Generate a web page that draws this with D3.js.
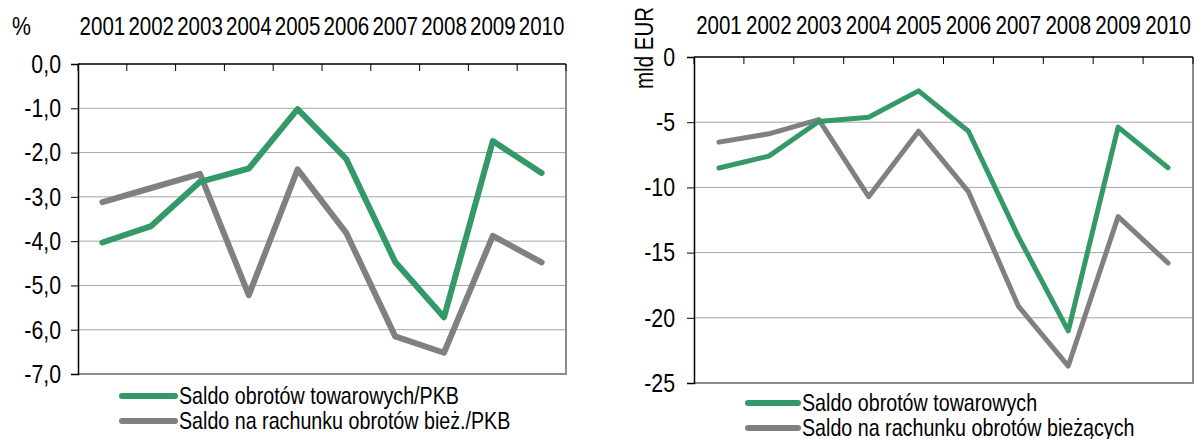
<!DOCTYPE html>
<html>
<head>
<meta charset="utf-8">
<script src="https://cdn.jsdelivr.net/npm/d3@7"></script>
<style>
  body { margin: 0; background: #fff; }
  svg text { font-family: "Liberation Sans", Arial, sans-serif; fill: #000; }
</style>
</head>
<body>
<div id="chart"></div>
<script>

// data
var years = ["2001", "2002", "2003", "2004", "2005", "2006", "2007", "2008", "2009", "2010"];

var pctTrade   = [-4.03, -3.66, -2.66, -2.36, -1.02, -2.15, -4.47, -5.72, -1.74, -2.46];
var pctCurrent = [-3.12, -2.80, -2.48, -5.22, -2.38, -3.82, -6.15, -6.52, -3.88, -4.48];

var eurTrade   = [-8.51, -7.60, -4.95, -4.62, -2.60, -5.69, -13.78, -21.0, -5.38, -8.49];
var eurCurrent = [-6.53, -5.89, -4.80, -10.71, -5.69, -10.33, -19.1, -23.7, -12.24, -15.8];

var pctTicks = [0, -1, -2, -3, -4, -5, -6, -7];
var eurTicks = [0, -5, -10, -15, -20, -25];

var pctLegend = ["Saldo obrotów towarowych/PKB", "Saldo na rachunku obrotów bież./PKB"];
var eurLegend = ["Saldo obrotów towarowych", "Saldo na rachunku obrotów bieżących"];

var green = "#339966", grey = "#808080";
var squeeze = 0.82;   // mimic the narrow face of the original

var svg = d3.select("#chart")
  .append("svg")
    .attr("width", 1195)
    .attr("height", 439);

// horizontally squeeze text (no narrow font installed)
function narrow(sel, size) {
  sel.each(function() {
    var t = d3.select(this);
    var x = +t.attr("x") || 0;
    t.attr("x", x / squeeze)
     .attr("transform", (t.attr("transform") || "") + " scale(" + squeeze + ",1)")
     .style("font-size", size + "px");
  });
}

function panel(opt) {
  var x = d3.scaleBand()
    .domain(years)
    .range([opt.left, opt.right]);

  var y = d3.scaleLinear()
    .domain([opt.ticks[0], opt.ticks[opt.ticks.length - 1]])
    .range([opt.top, opt.bottom]);

  var g = svg.append("g");

  // gridlines
  g.append("g")
    .selectAll("line")
    .data(opt.ticks.slice(1, -1))
    .enter()
    .append("line")
      .attr("x1", opt.left)
      .attr("x2", opt.right)
      .attr("y1", function(d) { return y(d); })
      .attr("y2", function(d) { return y(d); })
      .style("stroke", "#a6a6a6")
      .style("stroke-width", 1);

  // bottom and right border
  g.append("path")
    .attr("d", "M" + opt.left + "," + y(opt.ticks[opt.ticks.length - 1]) +
               "H" + opt.right + "V" + y(opt.ticks[0]))
    .style("fill", "none")
    .style("stroke", "#8c8c8c")
    .style("stroke-width", 2);

  // Y axis
  var yAxis = d3.axisLeft(y)
    .tickValues(opt.ticks)
    .tickSize(7)
    .tickPadding(opt.valPad)
    .tickFormat(opt.fmt);
  g.append("g")
    .attr("transform", "translate(" + opt.left + ",0)")
    .call(yAxis)
    .call(function(a) {
      a.select(".domain").style("stroke", "#000").style("stroke-width", 1.5);
      a.selectAll("text").call(narrow, 26);
    });

  // top category axis: line with ticks at band edges, labels above
  var edges = d3.range(years.length + 1).map(function(i) { return opt.left + i * x.step(); });
  g.append("line")
    .attr("x1", opt.left).attr("x2", opt.right)
    .attr("y1", y(0)).attr("y2", y(0))
    .style("stroke", "#000").style("stroke-width", 1.5);
  g.append("g")
    .selectAll("line")
    .data(edges)
    .enter()
    .append("line")
      .attr("x1", function(d) { return d; })
      .attr("x2", function(d) { return d; })
      .attr("y1", y(0))
      .attr("y2", y(0) + 7)
      .style("stroke", "#000");

  var xAxis = d3.axisTop(x).tickSize(0).tickPadding(opt.yearPad);
  g.append("g")
    .attr("transform", "translate(0," + y(0) + ")")
    .call(xAxis)
    .call(function(a) {
      a.select(".domain").remove();
      a.selectAll("text").call(narrow, 25);
    });

  // lines
  var line = d3.line()
    .x(function(d, i) { return x(years[i]) + x.bandwidth() / 2; })
    .y(function(d) { return y(d); });

  [[opt.current, grey], [opt.trade, green]].forEach(function(s) {
    g.append("path")
      .datum(s[0])
      .attr("d", line)
      .style("fill", "none")
      .style("stroke", s[1])
      .style("stroke-width", opt.lineWidth)
      .style("stroke-linejoin", "round")
      .style("stroke-linecap", "round");
  });

  // legend
  var lg = g.append("g");
  opt.legend.forEach(function(name, i) {
    var ly = opt.legendY + i * opt.legendGap;
    lg.append("line")
      .attr("x1", opt.legendX).attr("x2", opt.legendX + opt.legendLen)
      .attr("y1", ly).attr("y2", ly)
      .style("stroke", i === 0 ? green : grey)
      .style("stroke-width", 6)
      .style("stroke-linecap", "round");
    lg.append("text")
      .attr("x", opt.legendX + opt.legendLen + 4)
      .attr("y", ly)
      .attr("dy", "0.35em")
      .text(name)
      .call(narrow, 24);
  });

  return g;
}

var left = panel({
  left: 78, right: 566, top: 64, bottom: 374,
  ticks: pctTicks,
  fmt: function(d) { return d3.format(".1f")(d).replace(".", ",").replace("−", "-"); },
  trade: pctTrade, current: pctCurrent,
  valPad: 10, yearPad: 29, lineWidth: 6,
  legend: pctLegend, legendX: 122, legendLen: 53, legendY: 396, legendGap: 25
});

var right = panel({
  left: 694, right: 1193, top: 57, bottom: 383,
  ticks: eurTicks,
  fmt: function(d) { return String(d); },
  trade: eurTrade, current: eurCurrent,
  valPad: 12, yearPad: 23, lineWidth: 5,
  legend: eurLegend, legendX: 748, legendLen: 50, legendY: 403, legendGap: 25
});

// unit labels
svg.append("text")
  .attr("x", 12)
  .attr("y", 35)
  .text("%")
  .call(narrow, 26);

svg.append("text")
  .attr("transform", "translate(653,48) rotate(-90)")
  .attr("text-anchor", "middle")
  .text("mld EUR")
  .call(narrow, 25);

</script>
</body>
</html>
